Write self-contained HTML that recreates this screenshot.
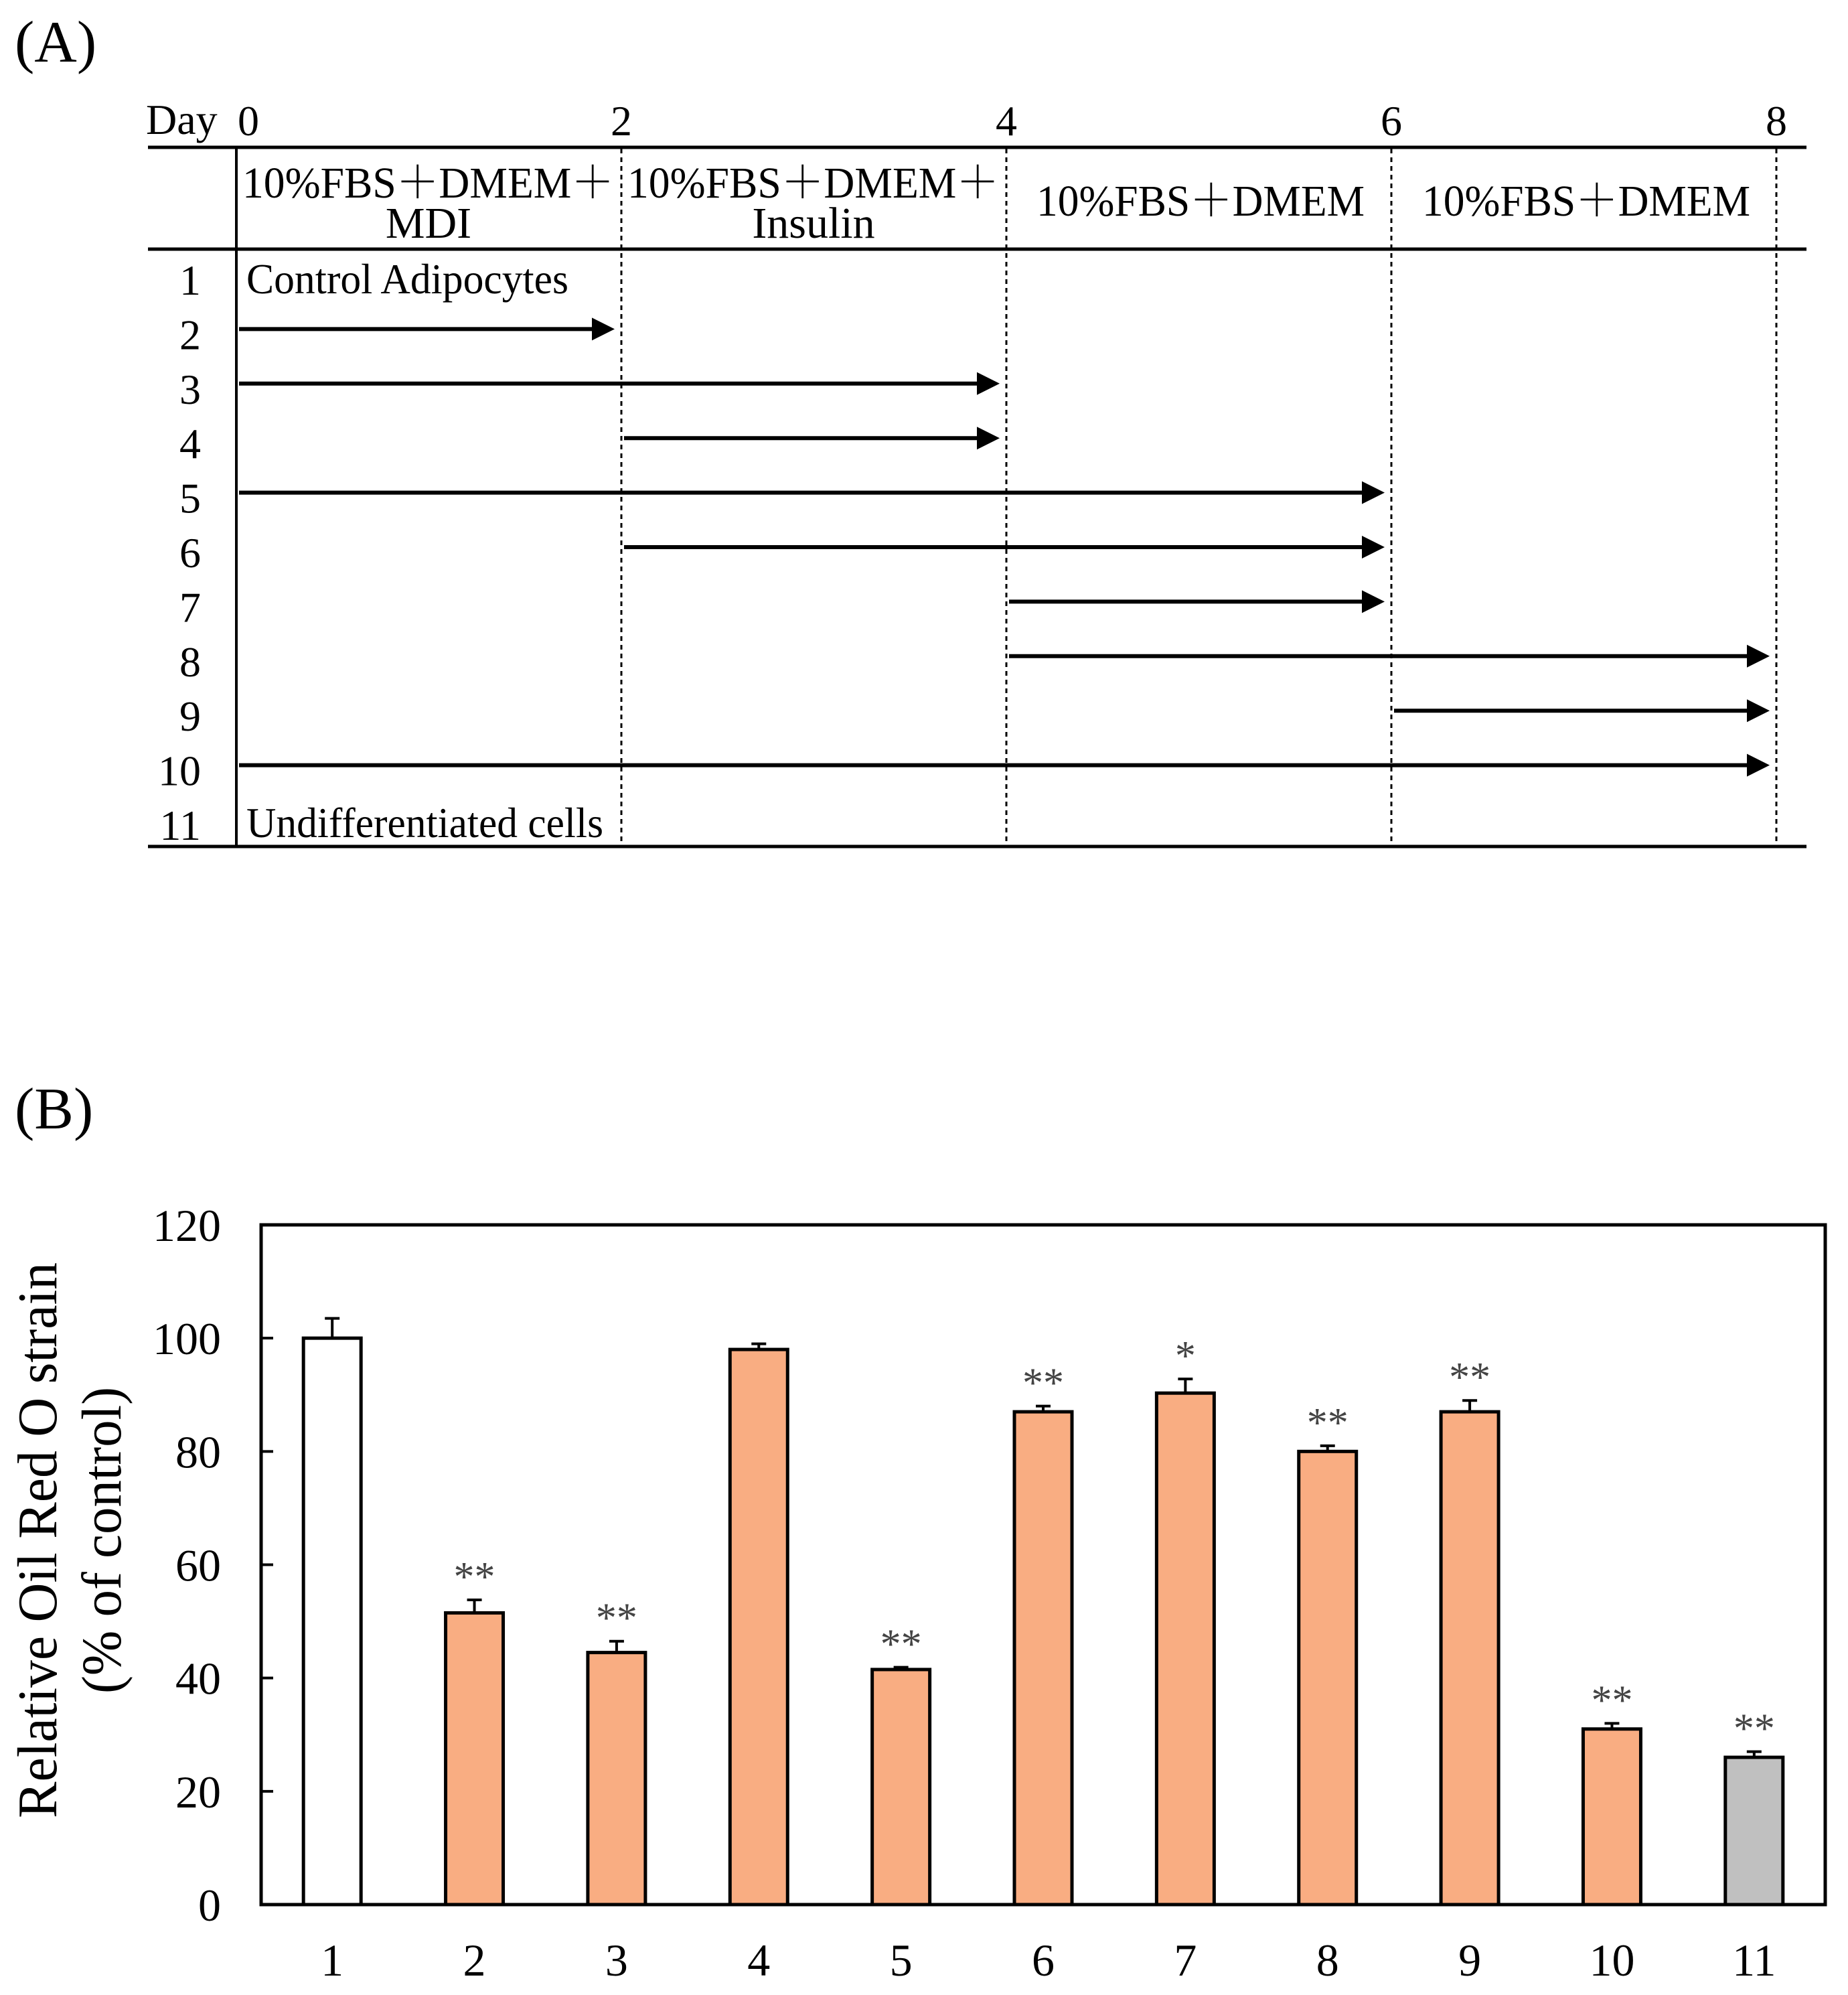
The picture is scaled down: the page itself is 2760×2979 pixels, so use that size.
<!DOCTYPE html>
<html><head><meta charset="utf-8"><style>
html,body{margin:0;padding:0;background:#fff}
svg{display:block;font-family:"Liberation Serif","Noto Serif CJK SC",serif}
</style></head><body>
<svg id="fig" width="2760" height="2979" viewBox="0 0 2760 2979" xmlns="http://www.w3.org/2000/svg">
<g id="panelA">
<text x="22" y="92" font-size="88">(A)</text>
<text x="218" y="200" font-size="64">Day</text>
<line x1="221" y1="220" x2="2698" y2="220" stroke="#000" stroke-width="5"/>
<line x1="221" y1="372" x2="2698" y2="372" stroke="#000" stroke-width="5"/>
<line x1="221" y1="1264" x2="2698" y2="1264" stroke="#000" stroke-width="5"/>
<line x1="353" y1="220" x2="353" y2="1264" stroke="#000" stroke-width="4"/>
<text x="362" y="295" font-size="66" textLength="555" lengthAdjust="spacingAndGlyphs">10%FBS＋DMEM＋</text>
<text x="640" y="355" font-size="66" text-anchor="middle">MDI</text>
<text x="937" y="295" font-size="66" textLength="555" lengthAdjust="spacingAndGlyphs">10%FBS＋DMEM＋</text>
<text x="1215" y="355" font-size="66" text-anchor="middle">Insulin</text>
<text x="1548" y="322" font-size="66" textLength="490" lengthAdjust="spacingAndGlyphs">10%FBS＋DMEM</text>
<text x="2124" y="322" font-size="66" textLength="490" lengthAdjust="spacingAndGlyphs">10%FBS＋DMEM</text>
<text x="368" y="438" font-size="64" textLength="481" lengthAdjust="spacingAndGlyphs">Control Adipocytes</text>
<text x="368" y="1250" font-size="64" textLength="533" lengthAdjust="spacingAndGlyphs">Undifferentiated cells</text>
</g>
<g id="panelB">
<text x="22" y="1685" font-size="88">(B)</text>
<rect x="390" y="1829" width="2336" height="1015" fill="none" stroke="#000" stroke-width="5"/>
<text transform="translate(84,2300) rotate(-90)" font-size="84" text-anchor="middle" textLength="830" lengthAdjust="spacingAndGlyphs">Relative Oil Red O strain</text>
<text transform="translate(180,2300) rotate(-90)" font-size="84" text-anchor="middle" textLength="458" lengthAdjust="spacingAndGlyphs">(% of control)</text>
</g>
</svg>
<script>
const days=[0,2,4,6,8];
const rowLabels=["1","2","3","4","5","6","7","8","9","10","11"];
const arrowStart=[null,0,0,2,0,2,4,4,6,0,null];
const arrowEnd=[null,2,4,4,6,6,6,8,8,8,null];
const categories=["1","2","3","4","5","6","7","8","9","10","11"];
const values=[100,51.5,44.5,98,41.5,87,90.3,80,87,31,26];
const errors=[3.5,2.3,2,1,0.4,1,2.5,1,2,1,1];
const stars=["","**","**","","**","**","*","**","**","**","**"];
const yTicks=[0,20,40,60,80,100,120];
const NS="http://www.w3.org/2000/svg";
const A=document.getElementById('panelA'),B=document.getElementById('panelB');
function mk(p,t,at,txt){const e=document.createElementNS(NS,t);for(const k in at)e.setAttribute(k,at[k]);if(txt!=null)e.textContent=txt;p.appendChild(e);return e;}
const dx=d=>353+d*287.5;
const rowY=i=>418+i*81.4;
days.forEach((d,i)=>{
  const t=mk(A,'text',{x:dx(d)+(i==0?18:0),y:202,'font-size':64,'text-anchor':'middle'},String(d));
  
  
  if(i>0){const l=mk(A,'line',{x1:dx(d),y1:222,x2:dx(d),y2:1264,stroke:'#000','stroke-width':3,'stroke-dasharray':'7,6'});
  
  }
});
rowLabels.forEach((r,i)=>{
  const y=rowY(i);
  const t=mk(A,'text',{x:300,y:y+22,'font-size':64,'text-anchor':'end'},r);
  
  
  if(arrowStart[i]!=null){
    const ay=y-8;
    const x1=dx(arrowStart[i])+4,x2=dx(arrowEnd[i])-10;
    const g=mk(A,'g',{});
    
    
    mk(g,'line',{x1:x1,y1:ay,x2:x2-30,y2:ay,stroke:'#000','stroke-width':6});
    mk(g,'polygon',{points:`${x2-34},${ay-17} ${x2},${ay} ${x2-34},${ay+17}`,fill:'#000'});
  }
});
const x0=390,pw=2336,y0=2844,ph=1015;
const xs=i=>x0+pw/categories.length*(i+0.5);
const ys=v=>y0-v/120*ph;
yTicks.forEach(v=>{
  const l=mk(B,'line',{x1:x0,y1:ys(v),x2:x0+18,y2:ys(v),stroke:'#000','stroke-width':4});
  
  
  const t=mk(B,'text',{x:330,y:ys(v)+24,'font-size':68,'text-anchor':'end'},String(v));
  
  
});
categories.forEach((c,i)=>{
  const cx=xs(i),w=86;
  const fill=i==0?'#fff':(i==10?'#c0c0c0':'#f9ad82');
  const eb=mk(B,'g',{});
  
  
  mk(eb,'line',{x1:cx,y1:ys(values[i]),x2:cx,y2:ys(values[i]+errors[i]),stroke:'#000','stroke-width':4});
  mk(eb,'line',{x1:cx-11,y1:ys(values[i]+errors[i]),x2:cx+11,y2:ys(values[i]+errors[i]),stroke:'#000','stroke-width':4});
  const r=mk(B,'rect',{x:cx-w/2,y:ys(values[i]),width:w,height:y0-ys(values[i]),fill:fill,stroke:'#000','stroke-width':5});
  
  
  if(stars[i]){const s=mk(B,'text',{x:cx,y:ys(values[i]+errors[i])-14,'font-size':62,'text-anchor':'middle',fill:'#444'},stars[i]);
  
  }
  const t=mk(B,'text',{x:cx,y:2950,'font-size':68,'text-anchor':'middle'},c);
  
  
});
</script>
</body></html>
